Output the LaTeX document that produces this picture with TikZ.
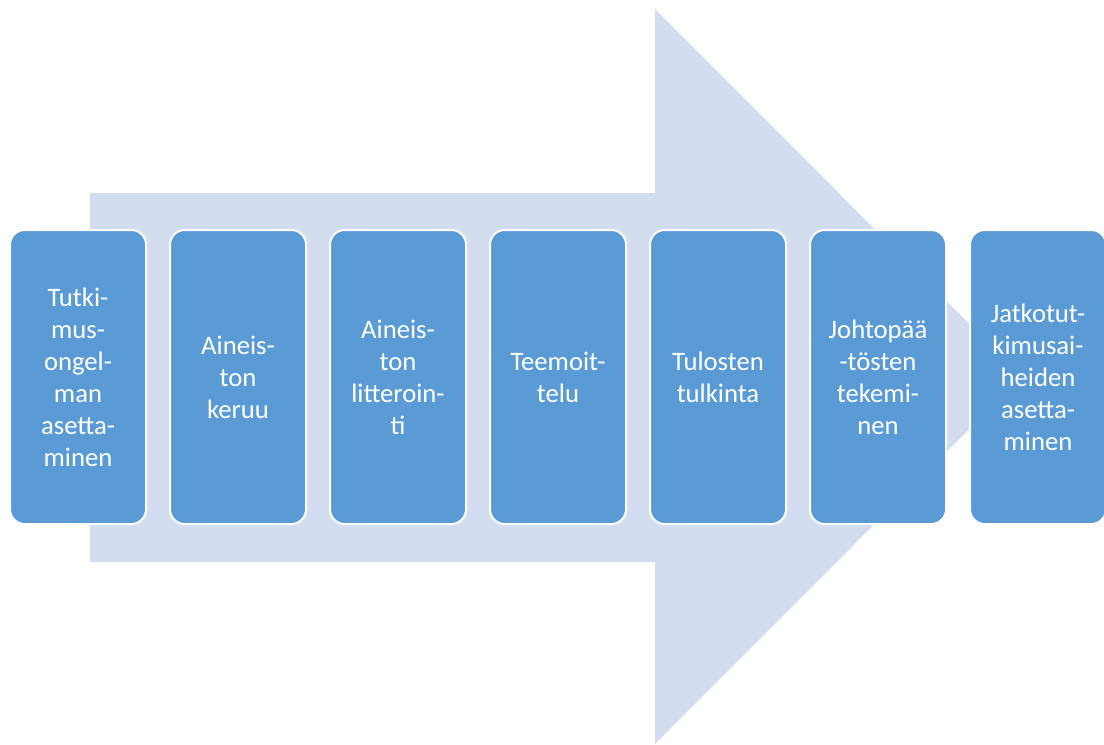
\documentclass[tikz,border=0pt]{standalone}
\usepackage{fontspec}
\setmainfont{Carlito}
\definecolor{BoxBlue}{HTML}{5B9BD5}
\definecolor{PaleBlue}{HTML}{D2DEEF}
\usetikzlibrary{positioning}

\begin{document}
\begin{tikzpicture}[x=0.75pt, y=-0.75pt,
      phase/.style={rounded corners=11pt, draw=white, line width=1.5pt,
                    fill=BoxBlue, text=white, outer sep=0pt,
                    minimum width=102pt, minimum height=220.5pt,
                    inner sep=2pt, align=center,
                    font=\fontsize{20}{24}\selectfont},
      bigarrow/.style={fill=PaleBlue, draw=none},
      node distance=18pt]

      \useasboundingbox (0,0) rectangle (1104,744);

      % background arrow
      \fill[bigarrow] (90,193) -- (655,193) -- (655,9) -- (1022,376.5)
            -- (655,744) -- (655,562) -- (90,562) -- cycle;

      \node[phase] (ongelma) at (78,377) {Tutki-\\mus-\\ongel-\\man\\asetta-\\minen};
      \node[phase, right=of ongelma]  (keruu)    {Aineis-\\ton\\keruu};
      \node[phase, right=of keruu]    (litt)     {Aineis-\\ton\\litteroin-\\ti};
      \node[phase, right=of litt]     (teema)    {Teemoit-\\telu};
      \node[phase, right=of teema]    (tulkinta) {Tulosten\\tulkinta};
      \node[phase, right=of tulkinta] (johto)    {Johtopää\\-tösten\\tekemi-\\nen};
      \node[phase, right=of johto]    (jatko)    {Jatkotut-\\kimusai-\\heiden\\asetta-\\minen};
    \end{tikzpicture}
\end{document}
